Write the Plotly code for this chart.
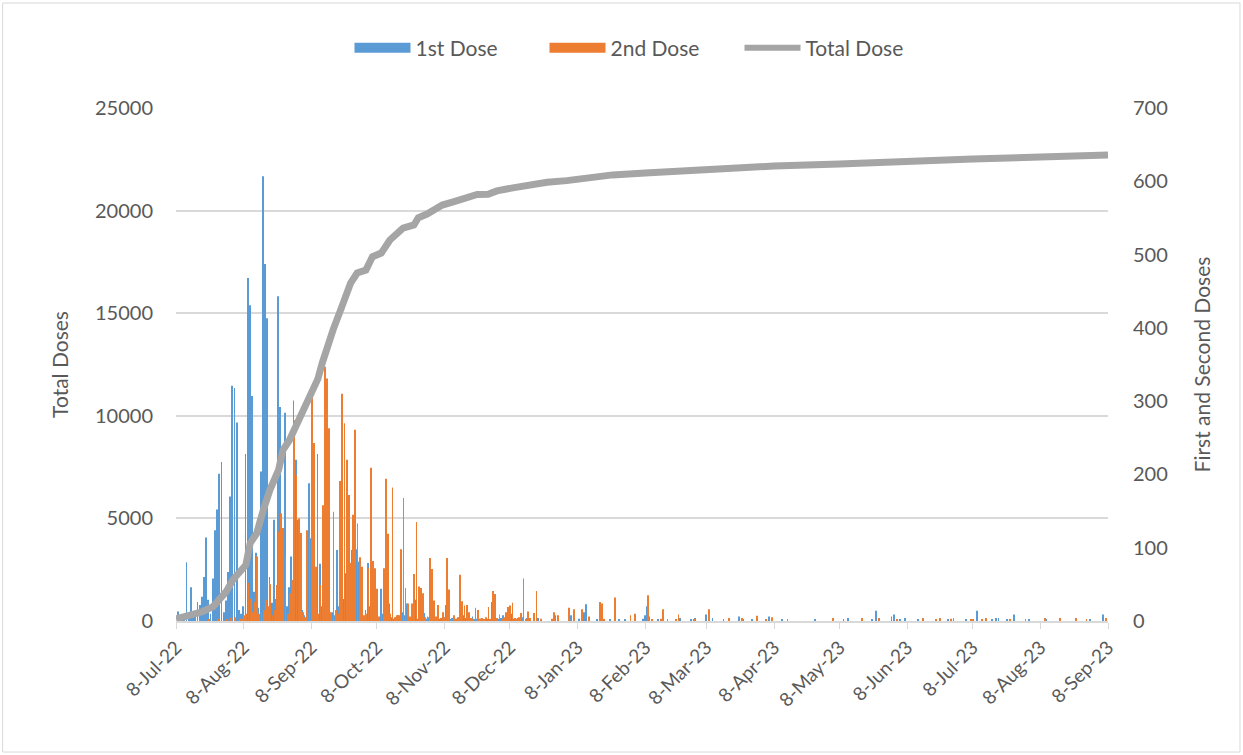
import plotly.graph_objects as go
import pandas as pd

start_date = "2022-07-08"

# Daily doses (right axis), one value per day from 8-Jul-22 to 8-Sep-23
first_dose = [
    12, 13, 5, 8, 6, 80, 10, 46, 12, 8, 26, 22, 33, 60, 114, 29, 10, 58, 124, 152,
    201, 217, 12, 28, 67, 170, 321, 318, 271, 15, 10, 20, 228, 468, 431, 307, 40, 93, 18, 204,
    607, 487, 413, 60, 25, 138, 30, 443, 292, 40, 284, 20, 46, 88, 301, 220, 138, 65, 15, 8,
    20, 188, 113, 42, 38, 228, 78, 20, 15, 176, 26, 10, 12, 8, 97, 20, 97, 30, 65, 10,
    8, 97, 20, 98, 81, 10, 5, 15, 79, 20, 60, 30, 8, 5, 44, 10, 20, 33, 24, 5,
    3, 5, 8, 70, 12, 8, 24, 3, 5, 10, 29, 3, 5, 4, 11, 3, 5, 37, 4, 3,
    2, 3, 4, 5, 22, 3, 2, 4, 2, 3, 5, 3, 8, 4, 2, 3, 6, 2, 3, 2,
    3, 2, 4, 3, 2, 26, 5, 3, 2, 4, 8, 3, 2, 20, 10, 3, 2, 4, 3, 5,
    0, 4, 2, 0, 0, 0, 4, 0, 0, 0, 0, 0, 0, 0, 8, 0, 0, 0, 0, 0,
    10, 8, 0, 0, 0, 3, 0, 12, 23, 0, 0, 0, 0, 2, 0, 13, 0, 0, 0, 2,
    0, 0, 0, 2, 0, 0, 2, 0, 0, 0, 0, 0, 0, 0, 3, 8, 20, 6, 0, 0,
    0, 2, 0, 0, 0, 0, 0, 0, 0, 0, 0, 4, 0, 0, 0, 0, 2, 0, 4, 0,
    0, 0, 0, 9, 0, 0, 4, 0, 0, 0, 0, 2, 0, 0, 0, 0, 0, 0, 6, 0,
    2, 0, 0, 0, 2, 0, 0, 0, 0, 0, 0, 0, 6, 0, 0, 0, 0, 0, 2, 0,
    0, 0, 0, 0, 0, 0, 0, 0, 0, 0, 0, 0, 0, 2, 0, 0, 0, 0, 0, 0,
    0, 0, 0, 0, 0, 0, 2, 0, 4, 0, 0, 0, 0, 0, 0, 0, 0, 0, 0, 2,
    0, 14, 0, 0, 0, 0, 0, 0, 6, 9, 0, 0, 2, 0, 4, 0, 0, 0, 0, 0,
    2, 0, 0, 0, 0, 0, 0, 0, 0, 0, 0, 0, 0, 0, 2, 0, 0, 0, 0, 0,
    0, 0, 2, 0, 0, 0, 0, 14, 0, 0, 0, 0, 0, 0, 2, 0, 4, 4, 0, 0,
    0, 2, 0, 0, 9, 0, 0, 0, 0, 0, 0, 2, 0, 0, 0, 0, 0, 0, 0, 2,
    0, 0, 0, 0, 0, 0, 0, 0, 0, 0, 0, 0, 0, 0, 0, 0, 0, 0, 0, 2,
    0, 0, 0, 0, 0, 9, 0, 0,
]

second_dose = [
    0, 0, 0, 0, 0, 0, 0, 0, 0, 0, 0, 0, 0, 0, 0, 2, 0, 0, 0, 3,
    0, 0, 0, 2, 0, 4, 0, 5, 0, 3, 2, 8, 10, 52, 30, 12, 26, 88, 10, 11,
    15, 29, 20, 50, 8, 15, 49, 122, 147, 127, 88, 10, 38, 56, 274, 199, 140, 120, 12, 5,
    124, 117, 311, 243, 74, 10, 49, 158, 347, 331, 263, 12, 149, 15, 10, 191, 310, 270, 220, 172,
    79, 145, 261, 133, 87, 74, 8, 10, 72, 209, 82, 72, 44, 6, 10, 72, 194, 119, 10, 182,
    5, 8, 8, 98, 168, 45, 24, 6, 24, 64, 135, 47, 45, 38, 5, 6, 86, 71, 28, 6,
    22, 4, 12, 5, 86, 43, 4, 8, 3, 5, 63, 27, 21, 22, 12, 4, 3, 18, 15, 3,
    4, 2, 5, 19, 3, 41, 37, 4, 9, 3, 5, 12, 19, 21, 25, 4, 3, 5, 11, 58,
    3, 13, 4, 0, 11, 41, 0, 3, 0, 0, 0, 0, 3, 12, 0, 8, 0, 0, 0, 0,
    18, 0, 16, 0, 0, 0, 16, 0, 0, 6, 0, 0, 0, 0, 26, 24, 3, 0, 0, 0,
    0, 32, 0, 0, 0, 0, 0, 0, 8, 0, 10, 0, 0, 0, 0, 0, 35, 0, 2, 0,
    0, 0, 3, 16, 0, 2, 0, 0, 0, 2, 9, 0, 0, 0, 0, 0, 0, 2, 0, 0,
    0, 0, 0, 0, 16, 0, 0, 0, 0, 0, 0, 0, 0, 4, 0, 0, 0, 0, 0, 4,
    0, 0, 0, 0, 0, 0, 7, 0, 0, 0, 2, 0, 0, 5, 0, 0, 0, 0, 0, 0,
    2, 0, 0, 0, 0, 0, 0, 0, 0, 0, 0, 0, 0, 0, 0, 0, 0, 0, 0, 0,
    0, 4, 0, 0, 0, 0, 0, 0, 0, 0, 0, 0, 0, 0, 4, 0, 0, 0, 0, 0,
    0, 0, 4, 0, 0, 0, 0, 0, 0, 0, 2, 0, 0, 0, 0, 0, 0, 0, 0, 0,
    0, 0, 4, 0, 0, 0, 0, 0, 2, 0, 4, 0, 0, 0, 0, 3, 4, 0, 0, 0,
    0, 0, 0, 0, 2, 2, 0, 0, 0, 2, 0, 4, 0, 0, 0, 0, 0, 0, 0, 0,
    0, 0, 2, 0, 0, 0, 0, 0, 0, 2, 0, 0, 0, 0, 0, 0, 0, 0, 4, 0,
    0, 0, 0, 0, 0, 4, 0, 0, 0, 0, 0, 0, 4, 0, 0, 0, 0, 2, 0, 0,
    0, 0, 0, 0, 0, 0, 4, 0,
]

# Cumulative total doses (left axis)
total_dates = [
    "2022-07-08", "2022-07-14", "2022-07-20", "2022-07-25", "2022-07-28", "2022-07-31",
    "2022-08-03", "2022-08-06", "2022-08-09", "2022-08-11", "2022-08-14", "2022-08-17",
    "2022-08-20", "2022-08-24", "2022-08-26", "2022-08-29", "2022-09-01", "2022-09-05",
    "2022-09-08", "2022-09-11", "2022-09-13", "2022-09-16", "2022-09-18", "2022-09-22",
    "2022-09-24", "2022-09-26", "2022-09-29", "2022-10-03", "2022-10-06", "2022-10-10",
    "2022-10-14", "2022-10-17", "2022-10-20", "2022-10-25", "2022-10-27", "2022-10-31",
    "2022-11-03", "2022-11-07", "2022-11-12", "2022-11-17", "2022-11-23", "2022-11-28",
    "2022-12-02", "2022-12-10", "2022-12-16", "2022-12-25", "2023-01-03", "2023-01-12",
    "2023-01-24", "2023-02-08", "2023-03-08", "2023-04-08", "2023-05-08", "2023-06-08",
    "2023-07-08", "2023-08-08", "2023-09-08",
]
total_dose = [
    100, 290, 450, 700, 1120, 1430,
    2000, 2320, 2730, 3800, 4280, 5410,
    6380, 7360, 8330, 8820, 9470, 10350,
    11000, 11800, 12570, 13600, 14200, 15320,
    15800, 16470, 16960, 17100, 17750, 17930,
    18570, 18810, 19150, 19300, 19650, 19830,
    20030, 20270, 20430, 20600, 20790, 20800,
    20960, 21120, 21250, 21380, 21460, 21600,
    21740, 21830, 22030, 22170, 22270, 22420,
    22510, 22610, 22710,
]

tick_dates = [
    "2022-07-08", "2022-08-08", "2022-09-08", "2022-10-08", "2022-11-08", "2022-12-08",
    "2023-01-08", "2023-02-08", "2023-03-08", "2023-04-08", "2023-05-08", "2023-06-08",
    "2023-07-08", "2023-08-08", "2023-09-08",
]
tick_labels = [
    "8-Jul-22", "8-Aug-22", "8-Sep-22", "8-Oct-22", "8-Nov-22", "8-Dec-22",
    "8-Jan-23", "8-Feb-23", "8-Mar-23", "8-Apr-23", "8-May-23", "8-Jun-23",
    "8-Jul-23", "8-Aug-23", "8-Sep-23",
]

days1 = pd.date_range(start_date, periods=len(first_dose), freq="D")
days2 = pd.date_range(start_date, periods=len(second_dose), freq="D")

BLUE = "#5B9BD5"
ORANGE = "#ED7D31"
GRAY = "#A5A5A5"
TXT = "#595959"
GRID = "#d9d9d9"
FONT = "Lato"

fig = go.Figure()
fig.add_trace(go.Bar(x=days1, y=first_dose, name="1st Dose", showlegend=False,
                     marker=dict(color=BLUE, line=dict(width=0)), yaxis="y"))
fig.add_trace(go.Bar(x=days2, y=second_dose, name="2nd Dose", showlegend=False,
                     marker=dict(color=ORANGE, line=dict(width=0)), yaxis="y"))
fig.add_trace(go.Scatter(x=total_dates, y=total_dose, name="Total Dose", mode="lines",
                         showlegend=False,
                         line=dict(color=GRAY, width=7), yaxis="y2"))

# legend entries (wide swatches like the original)
fig.add_trace(go.Scatter(x=[None], y=[None], mode="lines", name="1st Dose",
                         line=dict(color=BLUE, width=12), yaxis="y"))
fig.add_trace(go.Scatter(x=[None], y=[None], mode="lines", name="2nd Dose",
                         line=dict(color=ORANGE, width=12), yaxis="y"))
fig.add_trace(go.Scatter(x=[None], y=[None], mode="lines", name="Total Dose",
                         line=dict(color=GRAY, width=6), yaxis="y"))

fig.update_layout(
    width=1243, height=755,
    margin=dict(l=176, r=135, t=108, b=134),
    paper_bgcolor="white", plot_bgcolor="white",
    font=dict(family=FONT, size=20, color=TXT),
    barmode="group", bargap=0.25, bargroupgap=0,
    showlegend=True,
    legend=dict(orientation="h", x=0.5, xanchor="center", y=1.117, yanchor="middle",
                font=dict(size=21, color=TXT), itemwidth=56,
                entrywidth=124, entrywidthmode="pixels", traceorder="normal"),
    xaxis=dict(type="date", range=[tick_dates[0], tick_dates[-1]],
               tickvals=tick_dates, ticktext=tick_labels, tickangle=-45,
               showgrid=False, showline=True, linecolor=GRID, linewidth=2,
               ticks="outside", tickcolor=GRID, ticklen=6, tickwidth=1,
               tickfont=dict(size=19, color=TXT)),
    yaxis=dict(side="right", range=[0, 700], dtick=100, showgrid=False, zeroline=False,
               tickfont=dict(size=20, color=TXT), ticklabelstandoff=24,
               title=dict(text="First and Second Doses", font=dict(size=21, color=TXT), standoff=28)),
    yaxis2=dict(side="left", overlaying="y", range=[0, 25000], dtick=5000, tickformat="d",
                showgrid=True, gridcolor=GRID, gridwidth=2, zeroline=False,
                tickfont=dict(size=20, color=TXT), ticklabelstandoff=22,
                title=dict(text="Total Doses", font=dict(size=21, color=TXT), standoff=20)),
    shapes=[dict(type="rect", xref="paper", yref="paper",
                 x0=-0.186, x1=1.1416, y0=-0.2554, y1=1.2047,
                 line=dict(color=GRID, width=1), fillcolor="rgba(0,0,0,0)", layer="below")],
)

fig.write_html("out.html", config={"displayModeBar": False},
               post_script="document.body.style.margin='0';document.body.style.overflow='hidden';")
